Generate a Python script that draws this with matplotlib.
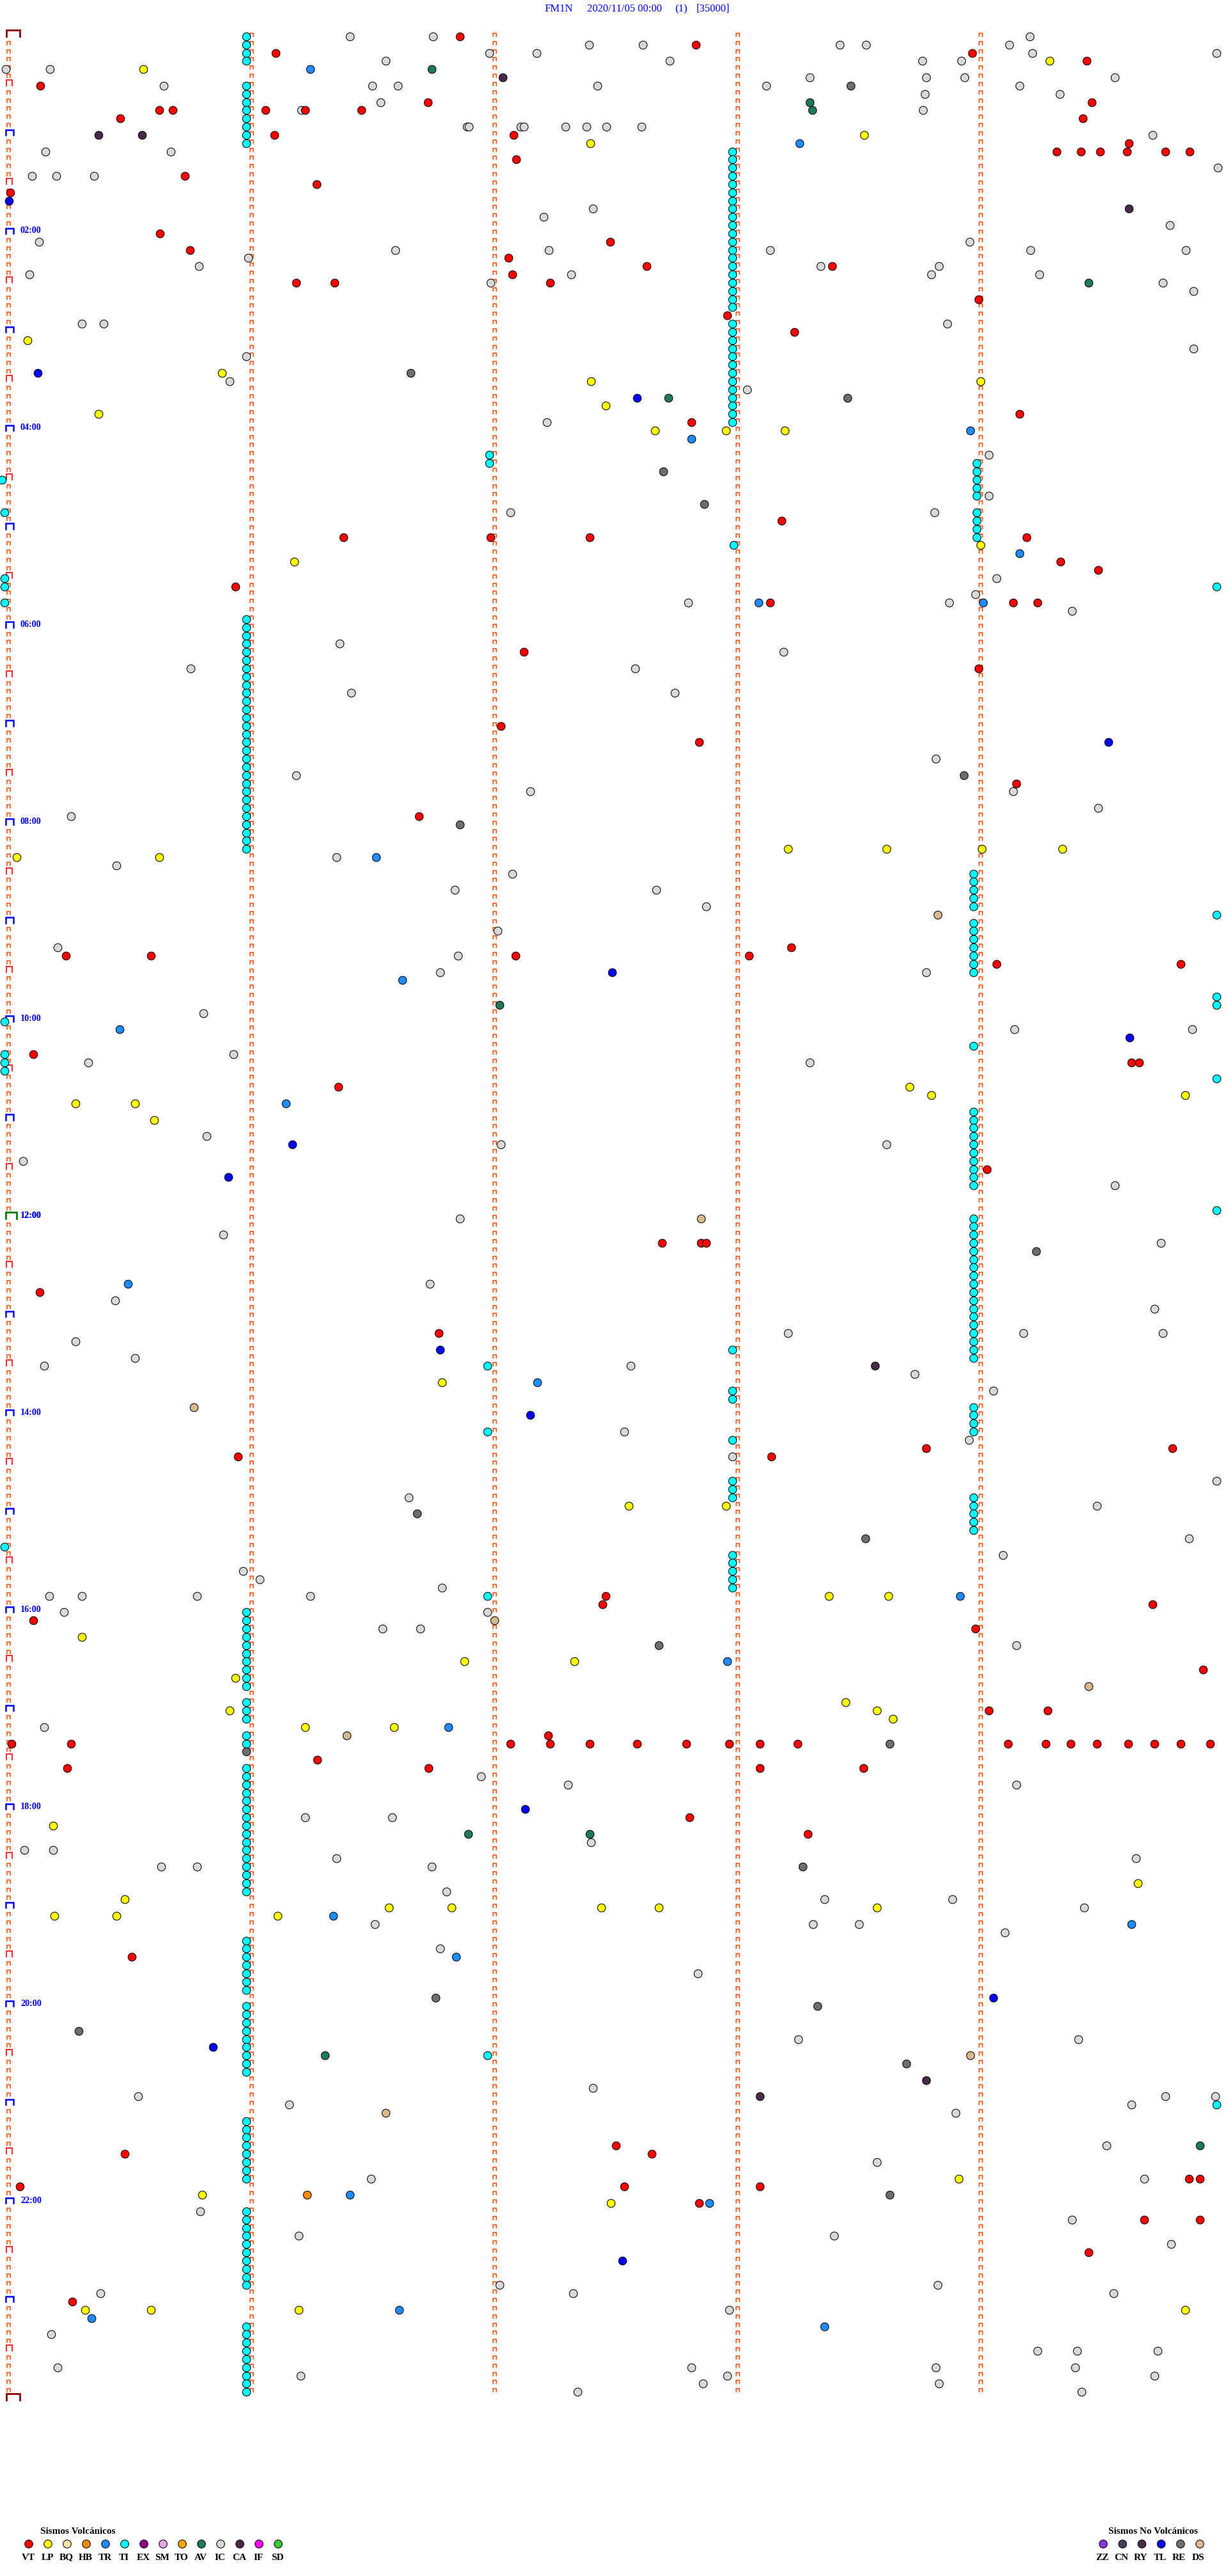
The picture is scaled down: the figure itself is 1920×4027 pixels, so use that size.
import matplotlib
matplotlib.use("Agg")
import matplotlib.pyplot as plt
from matplotlib.collections import LineCollection

# ---------------- data: (row of 5-minute window, second within window) ----------------
VT = [(0,111.5),(1,169.7),(2,66),(2,238),(3,266.2),(6,7.9),(8,103.6),(8,267.5),
      (9,37.2),(9,40.6),(9,63.4),(9,73.2),(9,87.2),(10,27.7),(10,265.3),(12,65.7),(12,124.7),
      (13,276.7),(14,258.8),(14,264.8),(14,269.5),(14,276.1),(14,285.6),(14,291.6),(15,125.4),
      (17,43.6),(18,76.1),(19,0.4),(24,37.4),(25,148.5),(26,44.8),(27,123.5),(28,157.6),(28,203.4),
      (29,124.4),(30,71),(30,80.6),(30,133.7),(32,239.5),(34,177.5),(36,194.1),(46,249.6),(47,168.6),
      (59,190.9),(61,82.7),(61,119.1),(61,143.5),(61,251.3),(64,259.8),(65,269.1),(67,56),
      (69,188),(69,248),(69,254.1),(75,127.2),(77,239.5),(84,121.6),(86,170.6),(91,248.8),(95,101.3),
      (111,193.3),(112,14.2),(112,35.2),(112,125.2),(112,182.8),(113,244),(113,289.4),(124,6.1),
      (125,277.2),(125,279.2),(128,81.4),(138,241.5),(147,161.3),(147,171),(147,172.2),(153,7.7),
      (158,106.2),(172,226.5),(172,287.3),(173,56.7),(173,188.4),(190,147.5),(191,146.7),(191,282.5),
      (193,6.1),(194,238.7),(199,295),(204,242),(204,256.5),(207,133.3),
      (208,0.8),(208,15.4),(208,124),(208,133.7),(208,143.5),(208,155.2),(208,167.4),(208,177.9),
      (208,185.6),(208,194.9),(208,246.8),(208,256.1),(208,262.2),(208,268.7),(208,276.4),(208,282.9),
      (208,289.4),(208,296.7),(210,76.2),(211,14.6),(211,103.7),(211,185.6),(211,211.1),(217,168.2),
      (219,197.4),(234,30.4),(257,150),(258,158.9),(258,28.8),(261,291.4),(261,294.2),(262,152),
      (262,185.6),(262,2.8),(264,170.6),(266,280.4),(266,294.2),(270,266.7),(276,15.8)]

LP = [(3,257),(4,33.3),(12,211.2),(13,143.7),(37,4.8),(41,52.7),(42,143.9),(42,240),(45,147.5),
      (46,22.3),(48,159.7),(48,177.1),(48,191.7),(62,240),(64,70.5),(99,192.5),(99,216.8),(99,240.3),
      (99,260.2),(100,2),(100,37.3),(128,222.5),(129,227.8),(129,290.6),(130,16.6),(130,31.2),(132,36),
      (164,107),(179,153.2),(179,177.1),(190,202.6),(190,217.2),(195,18.2),(198,112.6),(198,139.8),
      (200,56),(203,206.7),(204,214.4),(205,218.4),(204,54.7),(206,73.3),(206,95.2),(218,11),
      (225,278.8),(227,28.8),(228,94),(228,109.4),(228,146.3),(228,160.5),(228,214.4),(229,11.3),
      (229,26.7),(229,66.4),(261,234.6),(263,47.8),(264,148.7),(277,19),(277,35.2),(277,71.7),(277,290.6)]

HB = [(263,73.7)]

TR = [(4,74.5),(13,195.3),(48,237.5),(49,168.6),(63,249.6),(69,185.2),(69,240.7),(100,90.8),
      (115,97.2),(121,27.5),(130,68.5),(152,29.6),(164,130.5),(190,235),(198,177.5),(206,108.6),
      (229,80.2),(230,277.2),(234,110.6),(263,84.3),(264,173),(277,96.4),(278,20.6),(279,201.4)]

TI_COL_A_ROWS = [0,1,2,3,6,7,8,9,10,11,12,13,
                 71,72,73,74,75,76,77,78,79,80,81,82,83,84,85,86,87,88,89,90,91,92,93,94,95,96,97,98,99,
                 192,193,194,195,196,197,198,199,200,201,203,204,205,207,208,
                 211,212,213,214,215,216,217,218,219,220,221,222,223,224,225,226,
                 232,233,234,235,236,237,238,240,241,242,243,244,245,246,247,248,
                 254,255,256,257,258,259,260,261,265,266,267,268,269,270,271,272,273,274,
                 279,280,281,282,283,284,285,286,287]
TI_COL_A_SEC = 58.7
TI_COL_B_ROWS = [14,15,16,17,18,19,20,21,22,23,24,25,26,27,28,29,30,31,32,33,35,36,37,38,39,40,
                 41,42,43,44,45,46,47]
TI_COL_B_SEC = 178.7
TI_COL_C_ROWS = [52,53,54,55,56,58,59,60,61]
TI_COL_C_SEC = 239.1
TI_COL_D_ROWS = [102,103,104,105,106,108,109,110,111,112,113,114,131,132,133,134,135,136,137,138,
                 139,140,144,145,146,147,148,149,150,151,152,153,154,155,156,157,158,159,160,161,
                 167,168,169,170,178,179,180,181,182]
TI_COL_D_SEC = 238.3
TI_SINGLE = [(51,118.7),(52,118.7),(54,-1.6),(58,-1),(62,179.1),(66,-1),(67,-1),(67,298.3),(69,-1),
             (107,298.3),(117,298.3),(118,298.3),(120,-1),(123,238.3),(124,-1),(125,-1),(126,-1),
             (127,298.3),(143,298.3),(160,178.7),(162,118.3),(165,178.7),(166,178.7),(170,118.3),
             (171,178.7),(176,178.7),(177,178.7),(178,178.7),(184,-1),(185,178.7),(186,178.7),
             (187,178.7),(188,178.7),(189,178.7),(190,118.3),(246,118.3),(252,298.3)]

IC = [(0,84.3),(0,104.9),(0,252.1),(1,143.3),(1,156.7),(1,205.3),(1,211.8),(1,247.1),
      (2,118.7),(2,130.4),(2,252.8),(2,298.2),(3,93.2),(3,163.3),(3,225.6),(3,235.2),(4,-0.6),(4,10.3),
      (5,197.9),(5,226.6),(5,236),(5,273.2),(6,38.3),(6,89.9),(6,96.2),(6,145.4),(6,187.1),(6,249.6),
      (7,226.2),(7,259.6),(8,91.9),(9,72.3),(9,225.8),(11,113.2),(11,113.7),(11,126.4),(11,127.2),
      (11,137.6),(11,142.7),(11,147.6),(11,156.3),(12,282.4),(14,9.2),(14,40.1),(16,298.6),
      (17,5.8),(17,11.8),(17,21.1),(21,144.3),(22,132.2),(23,286.7),(25,7.5),(25,237.3),
      (26,95.5),(26,133.4),(26,188),(26,252.3),(26,290.7),(27,59.2),(28,47),(28,200.6),(28,229.8),
      (29,5.2),(29,139),(29,227.8),(29,254.5),(30,119),(30,285),(31,292.6),(35,18.2),(35,23.5),
      (35,231.8),(38,292.6),(39,58.7),(42,54.7),(43,182.4),(47,132.9),(51,242),(56,242),(58,124),
      (58,228.6),(66,244),(68,238.7),(69,167.8),(69,232.2),(70,262.6),(74,81.8),(75,191.3),
      (77,154.8),(77,45),(80,84.7),(80,164.5),(88,229),(90,71),(92,248),(92,128.9),(94,269.1),
      (95,15.4),(100,81),(101,26.7),(102,124.4),(104,110.2),(104,160),(106,172.2),(109,120.8),
      (111,12.1),(112,111),(114,106.6),(114,226.5),(119,48.2),(121,292.2),(121,248.4),(124,55.5),
      (125,19.8),(125,197.8),(134,49),(135,121.6),(135,216.8),(137,3.6),(140,273.2),(144,111.4),
      (146,53.1),(147,284.5),(152,104.1),(154,26.3),(155,282.9),(158,192.5),(158,250.5),(158,285),
      (159,16.6),(161,31.2),(162,8.9),(162,153.6),(163,223.7),(165,243.2),(170,152),(171,237.1),
      (173,178.7),(176,298.3),(178,98.9),(179,268.7),(183,291.4),(185,245.6),(187,58),(188,62),
      (189,107),(190,10.1),(190,18.2),(190,46.6),(190,74.6),(192,13.8),(192,118.3),(194,92.4),
      (194,101.7),(196,248.8),(206,8.9),(212,116.7),(213,248.8),(213,138.2),(217,73.3),(217,94.8),
      (220,143.9),(221,4),(221,11),(222,81),(222,278.4),(223,37.7),(223,46.6),(223,104.5),
      (226,108.2),(227,201.4),(227,233),(228,265.5),(230,90.4),(230,198.6),(230,210),(231,246),
      (233,106.6),(236,170.2),(244,195),(244,264.2),(250,144.3),(251,32),(251,285.7),(251,297.9),
      (252,69.3),(252,277.2),(253,233.8),(257,271.1),(259,214.4),(261,89.5),(261,280.4),(265,47.4),
      (266,262.6),(268,71.7),(268,203.8),(269,287),(274,121.2),(274,229.4),(275,139.4),(275,272.8),
      (275,22.7),(277,177.9),(280,10.5),(282,254.1),(282,263.8),(282,283.7),(284,12.1),(284,168.6),
      (284,229),(284,263.4),(285,72.1),(285,177.5),(285,282.9),(286,171.4),(286,229.8),(287,265),
      (287,140.6)]

AV = [(4,104.6),(8,197.8),(9,198.5),(30,266.7),(44,162.9),(118,121.2),(219,113.5),(219,143.5),
      (246,78.2),(257,294.2)]
CA = [(5,122),(12,22.3),(12,33),(21,276.7),(162,214),(249,226.5),(251,185.6)]
RE = [(6,208),(41,99.3),(44,207.1),(53,161.7),(57,171.8),(90,235.9),(96,111.4),(148,253.7),
      (180,100.9),(183,211.5),(196,160.5),(208,217.6),(209,58.7),(223,196.1),(239,105.4),(240,199.8),
      (243,17.4),(247,221.7),(263,217.6)]
TL = [(20,0.2),(41,7.3),(44,155.2),(86,271.5),(114,149.1),(122,276.8),(135,70.1),(139,54.3),
      (160,106.6),(168,128.9),(216,127.6),(239,243.2),(245,50.6),(271,151.6)]
DS = [(107,229.4),(144,171),(167,45.8),(193,120),(201,266.7),(207,83.5),(246,237.5),(253,93.2)]

VOLC_CODES = ["VT","LP","BQ","HB","TR","TI","EX","SM","TO","AV","IC","CA","IF","SD"]
VOLC_COLORS = ["#FF0000","#FFFF00","#F2E3A6","#FF8A00","#1E8CFF","#00FFFF","#8B008B","#E6A6E6",
               "#FFA500","#1F7A5C","#D8D8D8","#4A2A4A","#FF00FF","#33CC33"]
NONV_CODES = ["ZZ","CN","RY","TL","RE","DS"]
NONV_COLORS = ["#8A33D6","#4B3A5A","#4A2A48","#0000FF","#6E6E6E","#D8B88C"]

TITLE_PARTS = ["FM1N", "2020/11/05 00:00", "(1)", "[35000]"]
N_ROWS = 288
MINUTE_LINES = [0, 60, 120, 180, 240]

# ---------------- layout ----------------
W, H, DPI = 1920, 4027, 100
X0, PXS = 13.0, 380/60.0      # pixel of second 0, pixels per second
Y0, PXR = 57.0, 12.83         # pixel of row 0 centre, pixels per row
fig = plt.figure(figsize=(W/DPI, H/DPI), dpi=DPI)
fig.patch.set_facecolor("white")
ax = fig.add_axes([0, 0, 1, 1])
ax.set_xlim(-X0/PXS, (W-X0)/PXS)
ax.set_ylim((H-Y0)/PXR, -Y0/PXR)
ax.axis("off")
ov = fig.add_axes([0, 0, 1, 1], zorder=5)
ov.set_xlim(0, W); ov.set_ylim(H, 0); ov.axis("off"); ov.patch.set_alpha(0)

def glyph(xc_sec, row, w_px, h_px, dx_px=0.0):
    x = xc_sec + dx_px/PXS
    hw = w_px/2/PXS
    top = row - h_px/PXR
    return [(x-hw, row), (x-hw, top), (x+hw, top), (x+hw, row)]

segs, cols, lws = [], [], []
for sec in MINUTE_LINES:
    for r in range(N_ROWS + 1):
        if sec == 0:
            if r == 0 or r == N_ROWS:
                segs.append(glyph(sec, r, 21, 10, 7)); cols.append("#8B0000"); lws.append(2.0)
            elif r == 144:
                segs.append(glyph(sec, r, 17, 10, 4.5)); cols.append("#008000"); lws.append(2.0)
            elif r % 12 == 0:
                segs.append(glyph(sec, r, 11.5, 8.3, 2)); cols.append("#0000FF"); lws.append(1.8)
            elif r % 6 == 0:
                segs.append(glyph(sec, r, 9, 9, 1)); cols.append("#FF0000"); lws.append(1.2)
            else:
                segs.append(glyph(sec, r, 5, 5)); cols.append("#FF4500"); lws.append(1.1)
        elif r < N_ROWS:
            segs.append(glyph(sec, r, 5, 5)); cols.append("#FF4500"); lws.append(1.1)
ax.add_collection(LineCollection(segs, colors=cols, linewidths=lws, capstyle="projecting",
                                 joinstyle="miter", zorder=1))

for r in range(24, N_ROWS, 24):
    ov.text(32, Y0 + r*PXR - 4, f"{r//12:02d}:00", color="#0000FF", fontsize=10.2,
            fontweight="bold", family="Liberation Serif", ha="left", va="center")
ov.text(32, Y0 + 144*PXR - 4, "12:00", color="#0000FF", fontsize=10.2,
        fontweight="bold", family="Liberation Serif", ha="left", va="center")

S = 82
def dots(events, color, z=3):
    if not events:
        return
    rows = [e[0] for e in events]; secs = [e[1] for e in events]
    ax.scatter(secs, rows, s=S, c=color, edgecolors="black", linewidths=0.75, zorder=z)

cmap = dict(zip(VOLC_CODES + NONV_CODES, VOLC_COLORS + NONV_COLORS))
ti = ([(r, TI_COL_A_SEC) for r in TI_COL_A_ROWS] + [(r, TI_COL_B_SEC) for r in TI_COL_B_ROWS] +
      [(r, TI_COL_C_SEC) for r in TI_COL_C_ROWS] + [(r, TI_COL_D_SEC) for r in TI_COL_D_ROWS] + TI_SINGLE)
dots(IC, cmap["IC"])
dots(ti, cmap["TI"])
dots(VT, cmap["VT"]); dots(LP, cmap["LP"]); dots(HB, cmap["HB"]); dots(TR, cmap["TR"])
dots(AV, cmap["AV"]); dots(CA, cmap["CA"]); dots(RE, cmap["RE"]); dots(TL, cmap["TL"]); dots(DS, cmap["DS"])

# title
for txt, x in zip(TITLE_PARTS, [852, 918, 1055, 1089]):
    ov.text(x, 14, txt, color="#0000FF", fontsize=12, family="Liberation Serif",
            ha="left", va="center")

# legends
ov.text(63, 3957, "Sismos Volcánicos", fontsize=11, fontweight="bold",
        family="Liberation Serif", ha="left", va="center")
lx = [45 + 30*i for i in range(len(VOLC_CODES))]
ov.scatter(lx, [3977]*len(lx), s=S, c=VOLC_COLORS, edgecolors="black", linewidths=0.75)
for x, code in zip(lx, VOLC_CODES):
    ov.text(x - 1, 3998, code, fontsize=11, fontweight="bold", family="Liberation Serif",
            ha="center", va="center")

ov.text(1733, 3957, "Sismos No Volcánicos", fontsize=11, fontweight="bold",
        family="Liberation Serif", ha="left", va="center")
rx = [1725 + 30.2*i for i in range(len(NONV_CODES))]
ov.scatter(rx, [3977]*len(rx), s=S, c=NONV_COLORS, edgecolors="black", linewidths=0.75)
for x, code in zip(rx, NONV_CODES):
    ov.text(x - 2, 3998, code, fontsize=11, fontweight="bold", family="Liberation Serif",
            ha="center", va="center")

fig.savefig("out.png", dpi=DPI, facecolor="white")
